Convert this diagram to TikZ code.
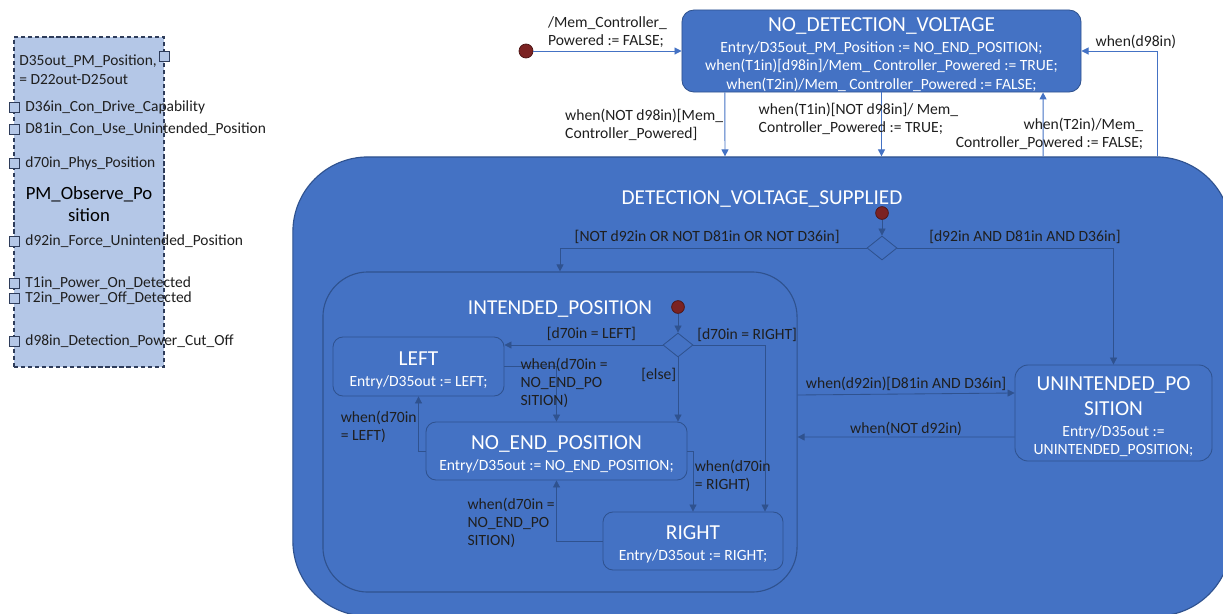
\documentclass[tikz,border=0pt]{standalone}
\usepackage{fontspec}
\setmainfont{Carlito}
\usetikzlibrary{arrows.meta, positioning, shapes.geometric}

\definecolor{stfill}{HTML}{4472C4}
\definecolor{stborder}{HTML}{2F528F}
\definecolor{pmfill}{HTML}{B4C7E7}
\definecolor{pmborder}{HTML}{2E3C5A}
\definecolor{initred}{HTML}{7B2222}
\definecolor{lbltext}{HTML}{1F1F1F}

\newcommand{\statetitle}[1]{{\fontsize{15.2}{17}\selectfont #1}}
\newcommand{\tallline}{\rule{0pt}{15pt}}

\begin{document}
\begin{tikzpicture}[x=0.025cm, y=-0.025cm, >={Triangle[length=5pt, width=5pt]},
		state/.style={rectangle, rounded corners=0.3cm, draw=stborder, fill=stfill, line width=0.6pt, text=white, align=center, inner sep=0pt, font=\fontsize{11.1}{13.2}\selectfont},
		composite/.style={state, line width=0.8pt},
		ctitle/.style={text=white, font=\fontsize{15.1}{17}\selectfont, anchor=center},
		init/.style={circle, fill=initred, draw=initred!60!black, line width=0.5pt, minimum size=0.32cm, inner sep=0pt},
		choice/.style={diamond, draw=stborder, fill=stfill, line width=0.6pt, minimum width=0.75cm, minimum height=0.6cm, inner sep=0pt},
		flow/.style={->, draw=stborder, line width=0.6pt},
		outflow/.style={->, draw=stfill, line width=0.7pt},
		lbl/.style={font=\fontsize{11.1}{12.8}\selectfont, text=lbltext, inner sep=1pt, align=left},
		pmblock/.style={rectangle, draw=pmborder, dash pattern=on 3pt off 2pt, fill=pmfill, line width=0.8pt, minimum width=3.75cm, minimum height=8.25cm, align=center, font=\fontsize{13.3}{15.6}\selectfont},
		port/.style={rectangle, draw=pmborder, fill=pmfill, line width=0.7pt, minimum size=0.25cm, inner sep=0pt}]

	\useasboundingbox (0,0) rectangle (1223,613);
	\clip (0,0) rectangle (1223,613);
	\fill[white] (0,0) rectangle (1223,613);

	% block with its ports
	\node[pmblock] (pm) at (89,202) {\rule{0pt}{12pt}PM\_Observe\_Po\\sition};
	\node[port, label={[lbl, font=\fontsize{11}{13.6}\selectfont, anchor=north east, yshift=0.08cm]west:D35out\_PM\_Position,\\= D22out-D25out}] (pout) at (164,56) {};
	\foreach \y/\name/\txt in {107/pdrive/D36in\_Con\_Drive\_Capability,
			129/puse/D81in\_Con\_Use\_Unintended\_Position,
			163/pphys/d70in\_Phys\_Position,
			241/pforce/d92in\_Force\_Unintended\_Position,
			283/pon/T1in\_Power\_On\_Detected,
			298/poff/T2in\_Power\_Off\_Detected,
			341/pcut/d98in\_Detection\_Power\_Cut\_Off}
		\node[port, label={[lbl, font=\fontsize{11}{13}\selectfont, label distance=3pt]right:\txt}] (\name) at (14,\y) {};

	% top level states
	\node[composite, rounded corners=1.875cm, minimum width=23.45cm, minimum height=11.475cm,
		label={[ctitle, yshift=-1.075cm]north:DETECTION\_VOLTAGE\_SUPPLIED}] (dvs) at (762,386.5) {};
	\node[state, minimum width=9.975cm, minimum height=2.05cm] (nodet) at (881.5,51)
		{\tallline\statetitle{NO\_DETECTION\_VOLTAGE}\\[1.6pt]Entry/D35out\_PM\_Position := NO\_END\_POSITION;\\when(T1in)[d98in]/Mem\_ Controller\_Powered := TRUE;\\when(T2in)/Mem\_ Controller\_Powered := FALSE;};
	\node[init, minimum size=0.35cm] (init1) at (526,51) {};

	\draw[outflow] (init1) -- node[lbl, above=1pt] {/Mem\_Controller\_\\Powered := FALSE;} (nodet);
	\draw[outflow] ([xshift=-3.9125cm]nodet.south) -- node[lbl, left] {when(NOT d98in)[Mem\_\\Controller\_Powered]} ([xshift=-0.925cm]dvs.north);
	\draw[outflow] (nodet.south) -- node[lbl, pos=0.415, xshift=-0.575cm] {when(T1in)[NOT d98in]/ Mem\_\\Controller\_Powered := TRUE;} (nodet.south |- dvs.north);
	\draw[outflow] ([xshift=7.025cm]dvs.north) -- node[lbl, align=right, pos=0.36, xshift=0.16cm] {when(T2in)/Mem\_\\Controller\_Powered := FALSE;} ([xshift=4.0375cm]nodet.south);
	\draw[outflow] ([xshift=9.875cm]dvs.north) |- node[lbl, above, pos=0.64] {when(d98in)} (nodet.east);

	% inside DETECTION_VOLTAGE_SUPPLIED
	\node[init] (init2) at (882,213) {};
	\node[choice] (ch1) at (882,248) {};
	\node[composite, rounded corners=1.125cm, minimum width=11.85cm, minimum height=8cm,
		label={[ctitle, yshift=-0.95cm]north:INTENDED\_POSITION}] (ip) at (560,432) {};
	\node[state, rounded corners=0.33cm, minimum width=4.925cm, minimum height=2.4cm] (up) at (1113.5,413)
		{\tallline\statetitle{UNINTENDED\_PO}\\[5pt]\statetitle{SITION}\\[1.6pt]Entry/D35out :=\\UNINTENDED\_POSITION;};

	\draw[flow] (init2) -- (ch1);
	\draw[flow] (ch1.west) -| node[lbl, above=2pt, pos=0.26] {[NOT d92in OR NOT D81in OR NOT D36in]} (ip.north);
	\draw[flow] (ch1.east) -| node[lbl, above=2pt, pos=0.295] {[d92in AND D81in AND D36in]} (up.north);
	\draw[flow] ([yshift=0.925cm]ip.east) -- node[lbl, above=1pt] {when(d92in)[D81in AND D36in]} ([yshift=0.5cm]up.west);
	\draw[flow] ([yshift=-0.6cm]up.west) -- node[lbl, above] {when(NOT d92in)} ([yshift=-0.125cm]ip.east);

	% inside INTENDED_POSITION
	\node[init] (init3) at (678,307) {};
	\node[choice] (ch2) at (678,345) {};
	\node[state, rounded corners=0.25cm, minimum width=4.275cm, minimum height=1.475cm] (left) at (418.5,366.5)
		{\tallline\statetitle{LEFT}\\[1.6pt]Entry/D35out := LEFT;};
	\node[state, rounded corners=0.25cm, minimum width=6.525cm, minimum height=1.45cm] (nep) at (556.5,451)
		{\tallline\statetitle{NO\_END\_POSITION}\\[1.6pt]Entry/D35out := NO\_END\_POSITION;};
	\node[state, rounded corners=0.25cm, minimum width=4.5cm, minimum height=1.45cm] (right) at (693,541)
		{\tallline\statetitle{RIGHT}\\[1.6pt]Entry/D35out := RIGHT;};

	\draw[flow] (init3) -- (ch2);
	\draw[flow] (ch2.west) -- node[lbl, above=2pt, pos=0.45] {[d70in = LEFT]} (ch2.west -| left.east);
	\draw[flow] (ch2.east) -| node[lbl, above right=2pt, pos=0] {[d70in = RIGHT]} ([xshift=1.8cm]right.north);
	\draw[flow] (ch2.south) -- node[lbl, left, pos=0.28] {[else]} (ch2.south |- nep.north);
	\draw[flow] (left.east) -| node[lbl, pos=0.65, xshift=0.19cm] {when(d70in =\\NO\_END\_PO\\SITION)} (nep.north);
	\draw[flow] (nep.west) -| node[lbl, left, pos=0.72] {when(d70in\\= LEFT)} (left.south);
	\draw[flow] (nep.east) -| node[lbl, right, pos=0.705] {when(d70in\\= RIGHT)} (right.north);
	\draw[flow] (right.west) -| node[lbl, left, pos=0.65] {when(d70in =\\NO\_END\_PO\\SITION)} (nep.south);
\end{tikzpicture}
\end{document}
